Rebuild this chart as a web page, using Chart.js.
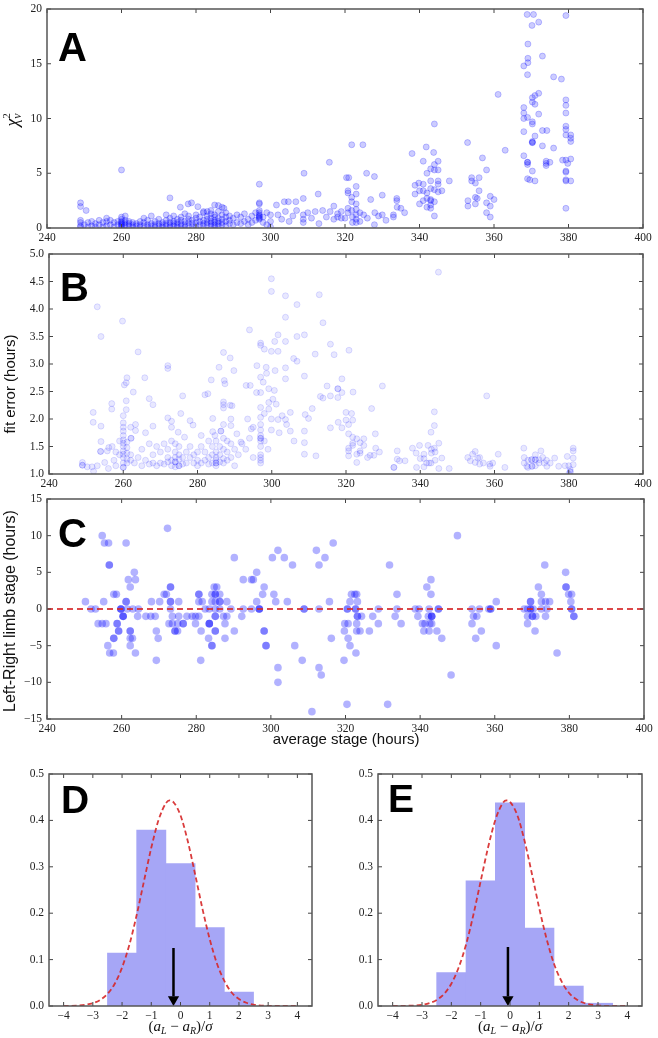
<!DOCTYPE html>
<html>
<head>
<meta charset="utf-8">
<script src="https://cdn.jsdelivr.net/npm/chart.js@4.4.1/dist/chart.umd.min.js"></script>
<style>
  html, body { margin: 0; padding: 0; background: #fff; }
  #wrap { position: relative; width: 658px; height: 1038px; overflow: hidden; background: #fff; }
  #wrap canvas { position: absolute; }
</style>
</head>
<body>
<div id="wrap">
  <canvas id="panelA"></canvas>
  <canvas id="panelB"></canvas>
  <canvas id="panelC"></canvas>
  <canvas id="panelD"></canvas>
  <canvas id="panelE"></canvas>
</div>
<script>
// ── data ──
// A: reduced chi-square vs average stage (hours)
const chiSqPts = [
  [249,2.3],[249,1.96],[250.5,1.6],[260,5.3],[273,2.75],[275.8,1.9],[277.9,2.2],[278.8,2.3],[280.5,1.95],[282,1.5],[285,2.1],[286,2.05],[287,1.9],[287.5,1.8],[284,1.6],[283,1.5],
  [297,4.0],[297,2.3],[297,2.2],[297,1.6],[297,1.4],[297,1.2],[297,1.1],[297,1.0],[297,0.9],[297,0.8],
  [249,0.7],[249,0.5],[249,0.2],[249,0.1],[250,0.3],[251,0.1],[251,0.5],[252,0.2],[252,0.6],[253,0.1],[253,0.4],[254,0.3],[254,0.7],[255,0.1],[255,0.5],[256,0.2],[256,0.6],[256,0.9],[257,0.3],[257,0.7],[258,0.1],[258,0.5],[259,0.3],[259,0.6],
  [260,0.1],[260,0.2],[260,0.3],[260,0.4],[260,0.5],[260,0.6],[260,0.8],[260,1.0],[261,0.1],[261,0.3],[261,0.5],[261,0.7],[261,1.1],[262,0.2],[262,0.4],[262,0.6],[263,0.1],[263,0.3],[263,0.5],[264,0.2],[264,0.4],[265,0.1],[265,0.3],[265,0.6],[266,0.2],[266,0.5],[266,0.9],[267,0.1],[267,0.3],[267,0.7],[268,0.2],[268,0.4],[268,1.1],[269,0.1],[269,0.3],[269,0.6],
  [270,0.2],[270,0.4],[270,0.8],[271,0.1],[271,0.3],[271,0.5],[272,0.2],[272,0.4],[272,0.7],[272,1.2],[273,0.1],[273,0.3],[273,0.5],[273,0.9],[274,0.2],[274,0.4],[274,0.6],[274,1.1],[275,0.1],[275,0.3],[275,0.5],[275,0.8],[276,0.2],[276,0.4],[276,0.7],[276,1.0],[277,0.1],[277,0.3],[277,0.6],[277,1.3],[278,0.2],[278,0.5],[278,0.8],[278,1.1],[279,0.1],[279,0.4],[279,0.7],
  [280,0.2],[280,0.5],[280,0.9],[280,1.2],[281,0.3],[281,0.6],[281,1.0],[282,0.2],[282,0.4],[282,0.7],[282,1.4],[283,0.3],[283,0.5],[283,0.8],[283,1.1],[284,0.2],[284,0.4],[284,0.6],[284,0.9],[284,1.3],[285,0.1],[285,0.3],[285,0.5],[285,0.7],[285,1.0],[285,1.2],[286,0.2],[286,0.4],[286,0.6],[286,0.9],[286,1.5],[287,0.3],[287,0.5],[287,0.8],[287,1.2],[288,0.2],[288,0.6],[288,1.0],[288,1.4],[289,0.4],[289,0.7],[289,1.1],
  [290,0.3],[290,0.9],[291,0.5],[291,1.2],[292,0.4],[292,1.0],[293,0.6],[293,1.3],[294,0.3],[294,0.8],[295,0.5],[295,1.1],[296,0.7],[296,1.4],[298,0.5],[298,1.0],[299,0.3],[299,1.4],[300,0.1],[300,0.6],[300,1.2],
  [301.6,2.1],[303.7,2.4],[304.8,2.4],[306.8,2.4],[308.8,2.7],[308.8,1.2],[308.8,0.8],[308.8,0.5],[312.8,3.1],[309,5.0],[302,1.2],[303,0.8],[304,1.5],[305,0.6],[306,1.1],[307,1.6],[310,1.4],[311,0.9],[312,1.5],[313,0.4],[314,1.6],[315,1.0],[316,1.5],[317,0.8],[318,1.3],[319,0.9],[315.8,6.0],[318,1.0],[319,1.5],[317,2.0],
  [321.8,7.6],[324.8,7.6],[325.8,5.0],[327.9,4.7],[320.4,4.6],[321,4.6],[323,3.8],[320.8,3.4],[320.8,3.2],[323,3.1],[321.8,2.8],[321.8,2.4],[323,2.2],[320.8,1.8],[323,1.7],[320.8,1.4],[321.8,1.6],[323,1.2],[322,1.0],[323,0.8],[324,0.6],[325,1.2],[326.9,2.6],[330,3.0],[328,1.4],[329,1.1],[327.9,0.3],[326,0.9],[330,1.2],[333.9,2.7],[333.9,2.5],[335,1.8],[334,1.9],[336,1.4],[333,1.2],[333,1.0],[331,0.7],[324,1.4],[322,0.5],[320,0.9],[323,0.5],
  [338,6.8],[339.8,4.1],[338.8,3.9],[338.8,3.1],[340,3.4],[340,2.2],[341,6.1],[341,4.0],[341,3.4],[341,2.5],[341.8,7.4],[342,5.0],[342,3.2],[342,2.7],[342,1.9],[343,5.4],[343,4.3],[343,3.6],[343,2.6],[343,2.5],[343,2.1],[343,1.8],[344,9.5],[343.8,6.9],[344,5.8],[344,5.3],[344,3.5],[344,2.4],[344,1.1],[345,6.1],[345,5.3],[345,4.3],[345,4.0],[345,3.3],[346,3.4],[348,4.3],
  [352.9,7.8],[353,2.5],[353,2.0],[354,4.6],[354,4.3],[355,4.1],[355,2.8],[355,2.2],[356,4.6],[356,3.4],[356.9,6.4],[355.5,2.7],[358,5.3],[358,2.3],[358,1.4],[359,2.9],[359,2.0],[359,1.0],[360,2.6],[361.1,12.2],[363,7.1],
  [368.9,19.5],[370.6,19.5],[370.2,18.5],[372,18.8],[369.1,16.8],[369.1,15.5],[369.1,15.1],[368,14.8],[369,14.0],[373,15.7],[376,13.8],[378.1,13.6],[379.3,19.4],
  [370.3,11.9],[371,12.1],[372,12.3],[370.3,11.5],[371,11.3],[368,11.0],[368,10.5],[368,10.0],[369,10.1],[372,10.4],[370.3,9.7],[370.3,9.5],[368,8.8],[373,8.9],[374.2,8.9],[371,8.4],
  [370.3,7.9],[370.3,7.8],[370.3,7.8],[373,7.5],[376,7.3],[368,6.6],[369,6.0],[369,6.0],[369,5.8],[374,6.1],[374,5.9],[374,5.7],[375,6.0],[370.3,5.2],[369,4.5],[369.6,4.4],[371,4.3],
  [379.3,11.7],[379.3,11.2],[379.3,10.5],[379.3,9.3],[379.3,9.0],[379.3,8.5],[380.6,8.5],[380.6,8.2],[380.6,7.9],[378.4,6.2],[379.3,6.2],[379.8,5.9],[380.6,6.3],[379.3,5.2],[379.3,5.1],[379.3,4.4],[379.3,4.3],[380.6,4.3],[379.3,1.8]
];

// B: fit error (hours) vs average stage (hours)
const fitErrPts = [
  [249,1.21],[249,1.16],[249,1.16],[250.3,1.13],[251.6,1.13],[253,1.15],[251.9,2.12],[251.9,1.94],[253,4.04],[254,3.5],[254,1.87],[254,1.59],[253.9,1.41],[253.9,1.41],[255,1.21],[255.7,1.42],[256.1,1.48],[256.9,2.28],[256.9,2.18],[257,1.5],[257.5,1.25],[258,1.4],[258,1.15],[259,1.35],[259,1.6],[256,1.1],[252,1.05],
  [259.8,3.78],[260.3,2.62],[260.8,2.66],[261,2.75],[260,1.12],[260,1.12],[260,1.2],[260,1.3],[260,1.36],[260,1.42],[260,1.5],[260,1.56],[260,1.62],[260,1.7],[260,1.78],[260,1.85],[260,1.93],[260,2.06],[260.8,2.17],[260.8,2.33],[261,1.27],[261,1.38],[261,1.48],[261,1.58],[261,1.2],[262.1,1.65],[262.1,1.65],[262,1.25],[262,1.35],[262,1.85],[262.7,2.49],[263,1.2],
  [263.3,1.9],[263.3,1.79],[264,3.22],[264,1.3],[265,1.15],[265,1.45],[265.8,2.75],[266,1.25],[266,1.75],[267,2.37],[267,1.18],[267,1.55],[268,2.26],[268,1.87],[268,1.2],[268,1.35],[269,1.15],[269,1.5],
  [270,1.2],[270,1.4],[271,1.18],[271,1.55],[272,2.97],[272,2.92],[272,2.02],[272,1.22],[272,1.3],[272,1.45],[273,1.96],[273,1.15],[273,1.25],[273,1.6],[273,1.85],[274,1.13],[274,1.22],[274,1.22],[274,1.3],[274,1.4],[274,1.55],[274.8,1.76],[275,1.15],[275,1.15],[275,1.27],[275,1.35],[275,1.5],[275.5,2.1],[276,2.42],[276,1.18],[276,1.3],[276.5,1.67],[277,1.2],[277,1.4],[278,1.97],[278,1.3],[278,1.5],[278.8,1.89],[279,1.2],[279,1.35],[280,1.15],[280,1.25],[280,1.4],[281,1.2],[281,1.5],[281,1.7],
  [282,2.44],[282.8,2.46],[283.7,2.71],[285.8,2.94],[287,3.21],[288.8,3.11],[289.8,2.88],[288.8,2.25],[287,2.31],[287,2.26],[287,2.2],[284.1,2.01],[284.1,1.77],[284.7,1.7],[286.3,1.78],[286.3,1.78],[287.2,2.7],[287.4,2.64],[289,2.0],[289,1.88],[289.3,2.24],
  [282,1.25],[282,1.4],[283,1.18],[283,1.3],[283,1.6],[284,1.2],[284,1.35],[284,1.5],[285,1.15],[285,1.2],[285,1.2],[285,1.25],[285,1.3],[285,1.4],[285,1.6],[286,1.22],[286,1.35],[286,1.5],[287,1.2],[287,1.28],[287,1.45],[287,1.65],[287,1.9],[288,1.25],[288,1.4],[288,1.6],[289,1.3],[289,1.55],[290,1.15],[290,1.45],[290.6,1.73],[291,1.35],[291.7,1.58],[292,1.55],[293,1.45],[293.1,2.61],[294.2,2.61],[294,3.62],[293.5,2.0],[294,1.65],[294.5,1.82],[295,1.3],[295,1.85],[295.9,2.48],
  [297,3.38],[297,3.34],[298,3.27],[296,2.97],[297,2.76],[297.7,2.67],[297,2.48],[297,2.21],[297,2.03],[297,1.9],[297,1.8],[297,1.7],[297,1.65],[297,1.65],[297,1.6],[297,1.5],[297,1.35],[297,1.3],[297,1.25],[297,1.2],
  [298.5,2.94],[298.6,2.83],[299.9,4.55],[299.9,4.32],[303.7,4.24],[312.8,4.26],[306.8,4.08],[303.7,3.85],[313.8,3.75],[301.7,3.53],[300.8,3.41],[303.7,3.41],[306.8,3.5],[308.8,3.53],[299.9,3.23],[301.7,3.23],[315.8,3.36],[316.8,3.17],[311.7,3.18],[320.8,3.25],[305.9,3.1],[306.8,3.05],[300.9,2.88],[303.7,2.93],[303.7,2.73],[308.8,2.78],[318.9,2.73],[314.9,2.6],[317.8,2.55],[317.8,2.55],[317.8,2.39],[318.9,2.48],[315.8,2.42],[313.1,2.41],[313.8,2.38],[321.9,2.49],[329.8,2.6],[326.9,2.19],[310.9,2.19],[309,2.08],[309.9,2.01],[302.8,2.06],[305,2.12],[299.2,2.55],[299.2,2.3],[299.2,2.18],[299.9,2.0],[299.9,1.8],[301.7,1.99],[303.7,1.99],[305,1.78],[308.8,1.78],[308.8,1.57],[308.8,1.36],[311.9,1.33],[315.8,1.84],[317.9,1.94],[318.9,1.84],[298,1.6],[298,2.1],[299,1.45],[302,1.75],[304,1.9],[306,1.6],[300.3,2.36],[301.2,2.27],[300.7,2.52],
  [320,2.12],[321.5,2.1],[321.8,1.98],[320,1.98],[320.7,1.9],[320.7,1.73],[320.7,1.47],[320.7,1.42],[320.7,1.33],[321.8,1.56],[321.8,1.52],[321.8,1.67],[322.9,1.64],[322.9,1.36],[322.9,1.21],[323.8,1.57],[323.8,1.42],[323.8,1.38],[324.8,1.64],[324.8,1.52],[325.8,1.3],[326.5,1.34],[327.5,1.34],[328,1.47],[329,1.4],[327.9,1.73],
  [333.8,1.42],[333.8,1.27],[334.4,1.24],[335.9,1.24],[332.9,1.12],[332.9,1.12],[337.9,1.47],[338.9,1.38],[339.8,1.52],[341,1.36],[342.1,1.52],[343,1.38],[343.8,1.47],[343.8,2.13],[343.8,1.88],[342.9,1.76],[345,1.56],[345,1.1],[345.8,1.29],[341.7,1.2],[342.4,1.2],[342.9,1.2],[341,1.13],[339,1.12],[347.8,1.1],[344.9,4.67],[340,1.28],[341,1.28],[344,1.4],[344,1.25],[343,1.45],
  [357.9,2.42],[352.8,1.3],[353.5,1.24],[354.8,1.41],[355.5,1.29],[356,1.18],[354.8,1.21],[354.1,1.36],[358.7,1.18],[358.8,1.14],[361,1.36],[362.8,1.12],[356,1.3],[357,1.2],[359.5,1.2],
  [367.9,1.47],[368,1.3],[368,1.2],[368.7,1.14],[369,1.25],[369,1.12],[370,1.26],[370,1.26],[370.1,1.14],[370.1,1.14],[371,1.26],[371,1.26],[371,1.35],[371,1.15],[372,1.26],[372.5,1.42],[372,1.2],[373,1.3],[373.4,1.2],[374.1,1.14],[374,1.25],[375,1.2],[376.2,1.29],[377.3,1.14],[379,1.15],[379.6,1.32],[380.4,1.08],[380.4,1.04],[380.4,1.04],[380,1.0],[380,1.15],[381.2,1.47],[381.2,1.42],[381.2,1.29],[381.2,1.17]
];

// C: left-right limb stage difference (hours) vs average stage (hours)
const lrDiffPts = [
  [250.3,1],[251.8,0],[253,0],[254.8,10],[255.4,9],[256.5,9],[256.7,6],[256.7,6],[255.2,1],[253.7,-2],[254.8,-2],[255.8,-2],[256.3,-5],[256.8,-6],[257.8,-6],[257.9,-4],[257.9,-4],[257.9,2],[258.6,2],[258.8,-2],[258.8,-2],[259.2,-3],[259.2,-3],[259.8,0],[259.8,0],[259.8,0],[260.4,-1],[260.4,-1],[260.4,-1],[261.2,1],[261.2,1],[261.2,9],[261.8,4],[262.3,3],[263.4,5],[263.7,4],[262.3,-3],[262.3,-3],[262.3,-4],[262.9,-4],[262.3,-5],[263.7,-6],[261.5,0],[263,0],[264.5,0],[264.3,-1],[266.5,-1],[267.8,-1],[269,-1],[268,1],[270.2,1],[271.4,2],[272,2],[269.3,-3],[269.8,-4],[269.3,-7],
  [272.3,11],[273.1,3],[273.1,3],[273.1,1],[273.1,1],[273.1,0],[273.6,-1],[272.7,-2],[273.6,-2],[274.3,-3],[274.3,-3],[275.3,1],[275.3,-1],[275,-2],[275,-3],[276.5,-2],[276.5,-2],[277.5,-1],[278.9,-1],[279.8,-1],[280.7,-1],[279.8,-2],[281.3,-3],[281.2,-7],[280.7,2],[280.7,2],[280.7,1],[281.6,1],[282.4,0],[283.5,0],[283.5,-2],[283.5,-2],[283.5,-2],
  [284.2,1],[284.2,2],[284.8,3],[285.5,3],[285.1,2],[285.1,2],[285.1,1],[285.1,0],[285.1,-1],[285.1,-1],[285.1,-3],[285.1,-3],[284.2,-5],[284.2,-5],[283.3,-4],[286.3,2],[286.3,1],[286.3,1],[286.3,0],[287.3,-1],[288.2,-1],[288.2,1],[287.7,-2],[287.7,-4],[289.3,0],[290.2,-3],[290.2,7],[292.2,-1],[292.6,4],[294.8,4],[295.3,4],[296.2,5],[292.6,0],[294.8,0],[296.2,1],[296.9,0],[296.9,0],[296.9,0],
  [297.8,2],[298.2,3],[298.2,-3],[298.2,-3],[298.7,-5],[298.7,-5],[300.4,7],[301.9,8],[303.6,7],[305.8,6],[300.8,2],[301.3,1],[304.4,1],[301.9,-8],[301.9,-10],[306.4,-5],[308.4,-7],[308.9,0],[308.9,0],[311,-14],[312.2,8],[312.9,6],[314.5,7],[316.7,9],[312.9,0],[312.9,-8],[313.5,-9],[315.7,1],[316.2,-4],[319.6,-7],[319.7,-3],
  [319.8,-2],[320.7,-2],[320.7,-4],[321.2,-5],[320.5,0],[320.5,0],[322.7,0],[322.7,0],[321.6,2],[322.5,2],[323,2],[321.2,1],[323.2,1],[323.2,-1],[323.2,-1],[324.3,-1],[323,-2],[323,-3],[323.9,-3],[322.8,-6],[320.4,-13],[326.4,-3],[327.3,-1],[328.8,0],[328.8,-2],[331.3,-13],[331.8,6],[333.3,-1],[333.8,0],[333.8,2],[334.9,-2],
  [338.7,0],[339.7,0],[339.4,-1],[340.6,-2],[341.3,-2],[341,-3],[341.8,3],[342.9,4],[342.9,2],[342.4,0],[344.9,0],[344.9,0],[342.2,-1],[343.1,-1],[343.1,-1],[343.1,-1],[342.6,-2],[343.1,-2],[342.4,-3],[344.5,-3],[345.8,-4],[348.3,-9],[350,10],
  [353.9,0],[355.9,0],[358.4,0],[358.9,0],[358.9,0],[353.9,-2],[354.3,-1],[355.2,-1],[356.4,-3],[354.9,-4],[360.4,1],[360.4,-5],
  [367.9,0],[368.8,0],[369.6,0],[369.6,0],[370.3,0],[369.6,1],[369.6,1],[368.8,-1],[368.8,-2],[370.1,-1],[370.1,-1],[371,-1],[370.8,-3],[371.7,3],[372.5,2],[372.5,1],[373.6,1],[374.7,1],[373.4,6],[372.5,0],[374,0],[373.6,-1],[376.7,-6],
  [379,5],[379.1,3],[379.1,3],[379.8,2],[380.6,2],[380.4,1],[380.6,0],[380.6,0],[381.2,-1],[381.2,-1]
];
const zeroLine = [[240,0],[400,0]];

// D / E: histograms of (a_L - a_R)/sigma, bins of width 1
const dBinCenters = [-2, -1, 0, 1, 2];
const dBinHeights = [0.114, 0.379, 0.307, 0.169, 0.030];
const eBinCenters = [-2, -1, 0, 1, 2, 3];
const eBinHeights = [0.072, 0.270, 0.438, 0.168, 0.043, 0.006];

// fitted normal curves (red dashed), read at these x positions
const dCurveX = [-4,-3.5,-3,-2.75,-2.5,-2.25,-2,-1.75,-1.5,-1.25,-1,-0.75,-0.5,-0.375,-0.25,0,0.25,0.5,0.75,1,1.25,1.5,1.75,2,2.25,2.5,3,3.5,4];
const dCurveY = [0.0001,0.001,0.006,0.013,0.026,0.048,0.083,0.132,0.196,0.269,0.341,0.401,0.437,0.443,0.440,0.411,0.355,0.284,0.210,0.144,0.091,0.054,0.029,0.015,0.007,0.003,0.0004,0,0];
const eCurveX = [-4,-3.5,-3,-2.75,-2.5,-2.25,-2,-1.75,-1.5,-1.25,-1,-0.75,-0.5,-0.25,-0.125,0,0.25,0.5,0.75,1,1.25,1.5,1.75,2,2.25,2.5,3,3.5,4];
const eCurveY = [0,0.0004,0.0025,0.006,0.013,0.026,0.048,0.083,0.132,0.196,0.269,0.341,0.401,0.437,0.443,0.440,0.411,0.355,0.284,0.210,0.144,0.091,0.054,0.029,0.015,0.007,0.001,0.0001,0];

// black arrows marking the mean: x position, tail top, head base, head centre
const dArrow = { x: -0.24, top: 0.125, base: 0.021, head: 0.014 };
const eArrow = { x: -0.07, top: 0.127, base: 0.021, head: 0.014 };

// ── styles ──
const TICK_FONT = { family: '"Liberation Serif", "Times New Roman", serif', size: 11.5 };
const SANS = '"Liberation Sans", Arial, Helvetica, sans-serif';
const SERIF = '"Liberation Serif", "Times New Roman", serif';
const XH = 20; // x-axis band height

const minus = v => (v < 0 ? '\u2212' + Math.abs(v) : String(v));

// draw a row of text runs [text, font, dy, advance?]
function drawRuns(ctx, runs, x, y) {
  let w = 0;
  runs.forEach(r => { ctx.font = r[1]; w += r[3] === 0 ? 0 : ctx.measureText(r[0]).width; });
  let cx = x - w / 2;
  runs.forEach(r => {
    ctx.font = r[1];
    ctx.fillText(r[0], cx, y + (r[2] || 0));
    if (r[3] !== 0) cx += ctx.measureText(r[0]).width;
  });
}

// frame, inward ticks, panel letter, axis titles
const panelDecor = {
  id: 'panelDecor',
  afterDatasetsDraw(chart, args, o) {
    const { ctx, chartArea: a, scales: { x, y } } = chart;
    ctx.save();
    ctx.strokeStyle = '#444';
    ctx.lineWidth = 1;
    ctx.beginPath();
    x.ticks.forEach(t => {
      const p = x.getPixelForValue(t.value);
      ctx.moveTo(p, a.bottom); ctx.lineTo(p, a.bottom - 4);
      ctx.moveTo(p, a.top); ctx.lineTo(p, a.top + 4);
    });
    y.ticks.forEach(t => {
      const p = y.getPixelForValue(t.value);
      ctx.moveTo(a.left, p); ctx.lineTo(a.left + 4, p);
      ctx.moveTo(a.right, p); ctx.lineTo(a.right - 4, p);
    });
    ctx.stroke();
    ctx.lineWidth = 1.5;
    ctx.strokeStyle = '#555';
    ctx.strokeRect(a.left, a.top, a.width, a.height);

    ctx.fillStyle = '#000';
    ctx.textAlign = 'left';
    ctx.textBaseline = 'alphabetic';
    ctx.font = `bold ${o.size}px ${SANS}`;
    ctx.fillText(o.letter, a.left + o.dx, a.top + o.dy);

    ctx.fillStyle = '#111';
    ctx.textBaseline = 'middle';
    (o.titles || []).forEach(t => {
      ctx.save();
      ctx.translate(t.x, t.y);
      if (t.rotate) ctx.rotate(-Math.PI / 2);
      drawRuns(ctx, t.runs, 0, 0);
      ctx.restore();
    });
    ctx.restore();
  }
};

function linearAxis(min, max, step, fmt, isX, size) {
  return {
    type: 'linear',
    min, max,
    afterFit(s) {
      if (isX) s.height = size; else s.width = size;
      s.paddingLeft = 0; s.paddingRight = 0; s.paddingTop = 0; s.paddingBottom = 0;
    },
    ticks: {
      stepSize: step, autoSkip: false, maxRotation: 0, minRotation: 0,
      padding: isX ? 3 : 5, color: '#222', font: TICK_FONT, callback: fmt
    },
    grid: { display: false, drawTicks: false },
    border: { display: false }
  };
}

function makePanel(id, box, plot, type, datasets, xAx, yAx, decor) {
  const el = document.getElementById(id);
  el.width = box.w; el.height = box.h;
  Object.assign(el.style, { left: box.left + 'px', top: box.top + 'px', width: box.w + 'px', height: box.h + 'px' });
  return new Chart(el.getContext('2d'), {
    type,
    data: { datasets },
    options: {
      responsive: false,
      animation: false,
      devicePixelRatio: 1,
      events: [],
      layout: { padding: { left: 0, top: plot.t, right: box.w - plot.r, bottom: box.h - plot.b - XH } },
      scales: {
        x: linearAxis(xAx[0], xAx[1], xAx[2], xAx[3], true, XH),
        y: linearAxis(yAx[0], yAx[1], yAx[2], yAx[3], false, plot.l)
      },
      plugins: { legend: { display: false }, tooltip: { enabled: false }, panelDecor: decor }
    },
    plugins: [panelDecor]
  });
}

const toXY = pts => pts.map(p => ({ x: p[0], y: p[1] }));
const zip = (xs, ys) => xs.map((v, i) => ({ x: v, y: ys[i] }));
const intTick = v => String(v);
const oneDec = v => v.toFixed(1);

// ── A ──
makePanel('panelA', { left: 0, top: 0, w: 658, h: 250 }, { l: 47, t: 9, r: 643, b: 228 }, 'scatter', [
  { data: toXY(chiSqPts), pointRadius: 3, backgroundColor: 'rgba(0,0,255,0.2)', borderColor: 'rgba(0,0,255,0.28)', borderWidth: 0.8 }
], [240, 400, 20, intTick], [0, 20, 5, intTick], {
  letter: 'A', size: 40, dx: 11, dy: 52,
  titles: [{ x: 13, y: 120, rotate: true, runs: [
    ['\u03c7', `italic 18px ${SERIF}`, 0],
    ['2', `11px ${SERIF}`, -6, 0],
    ['\u03bd', `italic 12px ${SERIF}`, 5]
  ] }]
});

// ── B ──
makePanel('panelB', { left: 0, top: 240, w: 658, h: 260 }, { l: 49, t: 14, r: 643, b: 234 }, 'scatter', [
  { data: toXY(fitErrPts), pointRadius: 3, backgroundColor: 'rgba(0,0,255,0.09)', borderColor: 'rgba(0,0,255,0.16)', borderWidth: 0.8 }
], [240, 400, 20, intTick], [1, 5, 0.5, oneDec], {
  letter: 'B', size: 40, dx: 11, dy: 47,
  titles: [{ x: 11, y: 144, rotate: true, runs: [['fit error (hours)', `15px ${SANS}`, 0]] }]
});

// ── C ──
makePanel('panelC', { left: 0, top: 490, w: 658, h: 265 }, { l: 47, t: 9, r: 644, b: 229 }, 'scatter', [
  { data: toXY(zeroLine), showLine: true, pointRadius: 0, borderColor: 'rgba(214,39,40,0.85)', borderWidth: 1.8, borderDash: [6, 4], order: 0 },
  { data: toXY(lrDiffPts), pointRadius: 3.8, backgroundColor: 'rgba(0,0,255,0.3)', borderWidth: 0, order: 1 }
], [240, 400, 20, intTick], [-15, 15, 5, minus], {
  letter: 'C', size: 40, dx: 11, dy: 48,
  titles: [
    { x: 11, y: 121, rotate: true, runs: [['Left-Right limb stage (hours)', `16px ${SANS}`, 0]] },
    { x: 346, y: 250, runs: [['average stage (hours)', `15px ${SANS}`, 0]] }
  ]
});

// ── D / E ──
const mathLabel = [
  ['(', `15px ${SERIF}`, 0],
  ['a', `italic 15px ${SERIF}`, 0],
  ['L', `italic 10px ${SERIF}`, 4],
  [' \u2212 ', `15px ${SERIF}`, 0],
  ['a', `italic 15px ${SERIF}`, 0],
  ['R', `italic 10px ${SERIF}`, 4],
  [')/', `15px ${SERIF}`, 0],
  ['\u03c3', `italic 15px ${SERIF}`, 0]
];

function histPanel(id, left, binsX, binsY, curveX, curveY, arrow, letter, dx, dy) {
  return makePanel(id, { left, top: 760, w: 329, h: 278 }, { l: 49, t: 14, r: left === 0 ? 312 : 313, b: 246 }, 'bar', [
    { type: 'line', data: [{ x: arrow.x, y: arrow.top }, { x: arrow.x, y: arrow.base }], borderColor: '#000', borderWidth: 2.5, pointRadius: 0, order: 0 },
    { type: 'line', data: [{ x: arrow.x, y: arrow.head }], showLine: false, pointStyle: 'triangle', rotation: 180, pointRadius: 6.5, backgroundColor: '#000', borderColor: '#000', borderWidth: 0, order: 0 },
    { type: 'line', data: zip(curveX, curveY), borderColor: 'rgba(214,39,40,0.9)', borderWidth: 1.8, borderDash: [5, 3], pointRadius: 0, cubicInterpolationMode: 'monotone', order: 1 },
    { type: 'bar', data: zip(binsX, binsY), backgroundColor: '#a6a6f6', borderWidth: 0, barPercentage: 1, categoryPercentage: 1, order: 2 }
  ], [-4, 4, 1, minus], [0, 0.5, 0.1, oneDec], {
    letter, size: 39, dx, dy,
    titles: [{ x: (49 + (left === 0 ? 312 : 313)) / 2, y: 267, runs: mathLabel }]
  });
}

histPanel('panelD', 0, dBinCenters, dBinHeights, dCurveX, dCurveY, dArrow, 'D', 12, 39);
histPanel('panelE', 329, eBinCenters, eBinHeights, eCurveX, eCurveY, eArrow, 'E', 10, 38);
</script>
</body>
</html>
